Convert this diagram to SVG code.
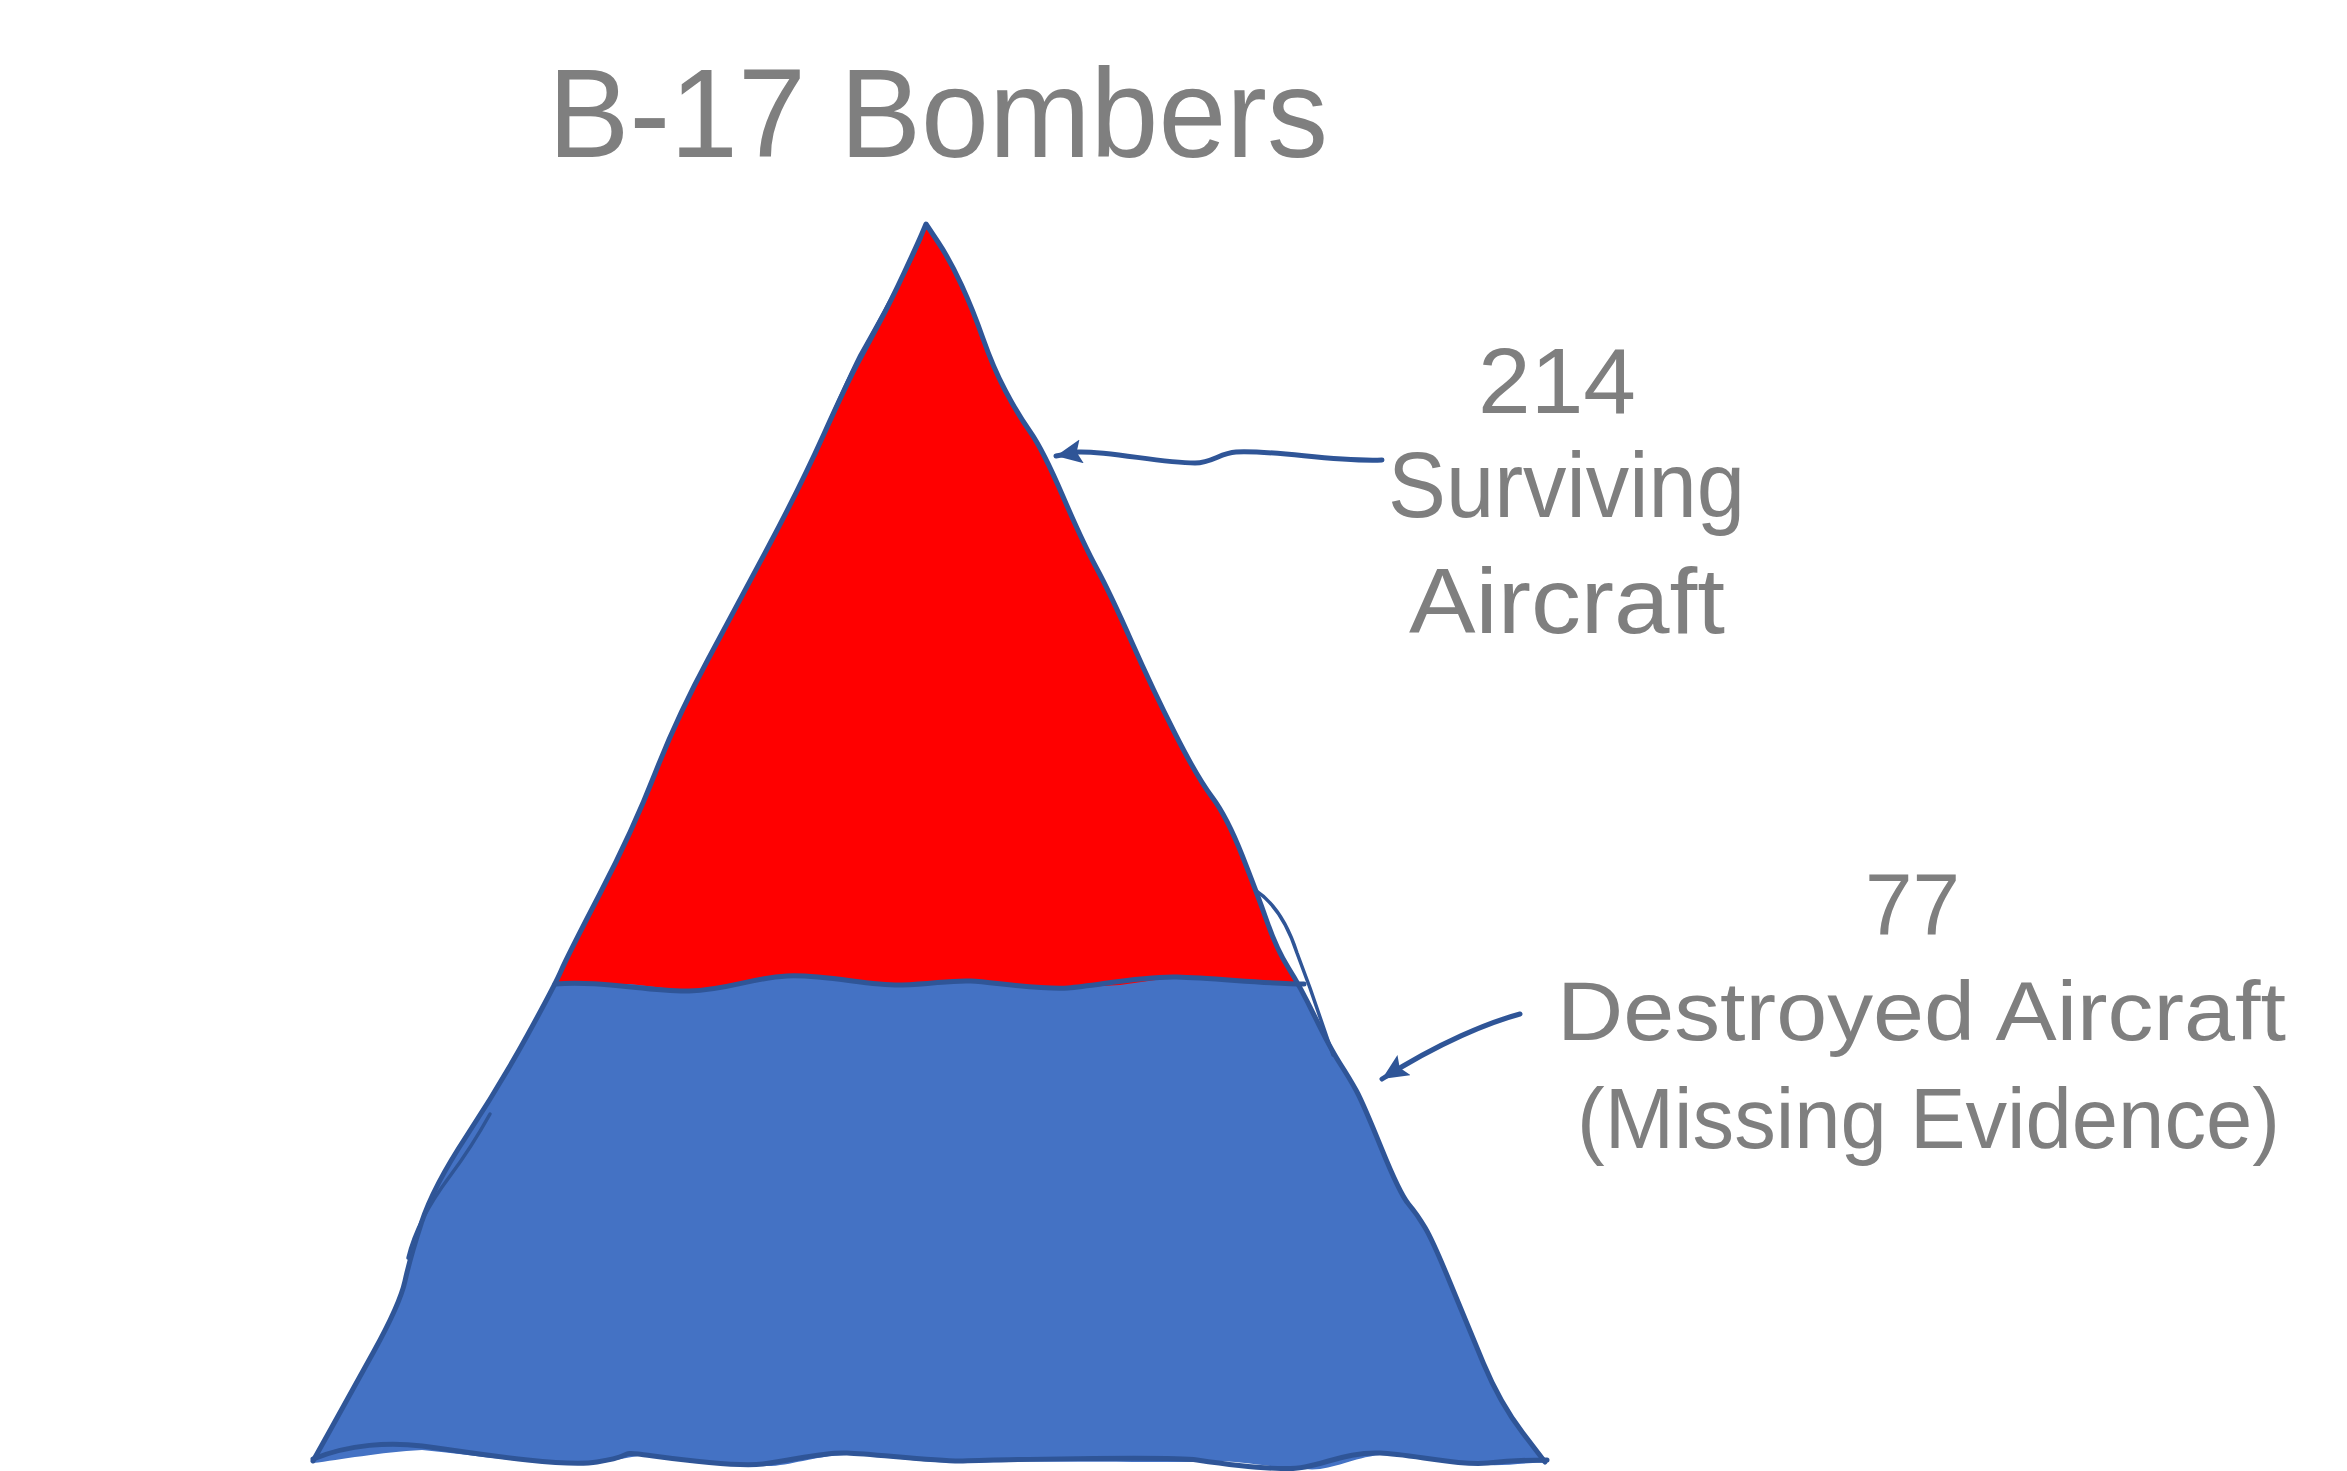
<svg xmlns="http://www.w3.org/2000/svg" width="2347" height="1471" viewBox="0 0 2347 1471">
  <style>
    .lbl { font-family: "Liberation Sans", "DejaVu Sans", sans-serif; fill: #7F7F7F; font-weight: 400; }
    .ttl { font-family: "Liberation Sans", "DejaVu Sans", sans-serif; fill: #7F7F7F; font-weight: 400; }
    .edge { fill: none; stroke: #2F5597; stroke-width: 5; stroke-linejoin: round; stroke-linecap: round; }
    .sketch { fill: none; stroke: #2F5597; stroke-width: 3.5; stroke-linejoin: round; stroke-linecap: round; }
    .conn { fill: none; stroke: #2F5597; stroke-width: 5; stroke-linecap: round; }
  </style>
  <defs>
    <marker id="ah" markerUnits="userSpaceOnUse" markerWidth="28" markerHeight="26" refX="26" refY="12" orient="auto">
      <path d="M0,0 L26,12 L0,24 L5,12 z" fill="#2F5597"/>
    </marker>
  </defs>
  <rect width="2347" height="1471" fill="#FFFFFF"/>

  <g id="title">
    <text class="ttl" x="548" y="157" font-size="127" textLength="780" lengthAdjust="spacingAndGlyphs">B-17 Bombers</text>
  </g>

  <g id="pyramid">
    <g id="destroyed-section">
      <path fill="#4472C4" d="M1547,1463 C1530,1462 1505,1466 1488,1465 C1460,1466 1410,1450 1380,1455 C1350,1458 1330,1472 1305,1469 C1270,1468 1230,1458 1197,1462 C1120,1462 1000,1461 963,1463 C920,1463 870,1454 847,1455 C810,1456 790,1467 763,1466 C720,1467 660,1452 638,1456 C610,1460 600,1466 570,1465 C520,1462 470,1455 422,1450 C380,1452 340,1460 313,1463 L330,1430.5 Q347,1400 373.5,1352 Q400,1304 405,1281 Q410,1258 421.5,1222.5 Q433,1187 466.5,1136 Q500,1085 527.5,1035 Q555,985 561,971 Q567,957 600,893.5 Q633,830 655,773.5 Q677,717 708.5,658.5 Q740,600 770,543.5 Q800,487 823.5,435 Q847,383 858.5,361.5 Q870,340 880,321.5 Q890,303 904,273 Q918,243 922,233.5 L926,224 L938,242 Q950,260 961.5,285 Q973,310 983,338.5 Q993,367 1005,390 Q1017,413 1030,431.5 Q1043,450 1063,496.5 Q1083,543 1096.5,568 Q1110,593 1131.5,641.5 Q1153,690 1175,733.5 Q1197,777 1212,797 Q1227,817 1242,855 Q1257,893 1267,921.5 Q1277,950 1288.5,968 Q1300,986 1315,1017 Q1330,1048 1340,1063.5 Q1350,1079 1356.5,1091 Q1363,1103 1381.5,1148.5 Q1400,1194 1408.5,1204 Q1417,1214 1425,1227.5 Q1433,1241 1450,1282.5 Q1467,1324 1483.5,1363.5 Q1500,1403 1522.5,1432.5 L1545,1462 Z"/>
    </g>
    <g id="surviving-section">
      <path fill="#FF0000" d="M926,224 L938,242 Q950,260 961.5,285 Q973,310 983,338.5 Q993,367 1005,390 Q1017,413 1030,431.5 Q1043,450 1063,496.5 Q1083,543 1096.5,568 Q1110,593 1131.5,641.5 Q1153,690 1175,733.5 Q1197,777 1212,797 Q1227,817 1242,855 Q1257,893 1267,921.5 Q1277,950 1288.5,968 L1301,985 L1240,981 L1177,977 L1120,985 L1068,988 L1020,985 L971,981 L902,985 L840,980 L787,976 L740,985 L689,991 L630,984 L555,984 L561,971 Q567,957 600,893.5 Q633,830 655,773.5 Q677,717 708.5,658.5 Q740,600 770,543.5 Q800,487 823.5,435 Q847,383 858.5,361.5 Q870,340 880,321.5 Q890,303 904,273 Q918,243 922,233.5 Z"/>
    </g>
    <g id="pyramid-outline">
      <path class="edge" d="M313,1461 L330,1430.5 Q347,1400 373.5,1352 Q400,1304 405,1281 Q410,1258 421.5,1222.5 Q433,1187 466.5,1136 Q500,1085 527.5,1035 Q555,985 561,971 Q567,957 600,893.5 Q633,830 655,773.5 Q677,717 708.5,658.5 Q740,600 770,543.5 Q800,487 823.5,435 Q847,383 858.5,361.5 Q870,340 880,321.5 Q890,303 904,273 Q918,243 922,233.5 L926,224 L938,242 Q950,260 961.5,285 Q973,310 983,338.5 Q993,367 1005,390 Q1017,413 1030,431.5 Q1043,450 1063,496.5 Q1083,543 1096.5,568 Q1110,593 1131.5,641.5 Q1153,690 1175,733.5 Q1197,777 1212,797 Q1227,817 1242,855 Q1257,893 1267,921.5 Q1277,950 1288.5,968 Q1300,986 1315,1017 Q1330,1048 1340,1063.5 Q1350,1079 1356.5,1091 Q1363,1103 1381.5,1148.5 Q1400,1194 1408.5,1204 Q1417,1214 1425,1227.5 Q1433,1241 1450,1282.5 Q1467,1324 1483.5,1363.5 Q1500,1403 1522.5,1432.5 L1545,1462"/>
      <path class="sketch" d="M1255,890 C1275,903 1288,925 1297,953 L1310,988 L1333,1055"/>
      <path class="sketch" d="M921,238 C905,275 880,320 860,355 C845,385 830,420 815,455"/>
      <path class="sketch" d="M408,1258 C415,1228 432,1200 450,1176 C468,1152 480,1132 490,1114"/>
      <path class="edge" d="M313,1459 C350,1444 390,1442 422,1446 S560,1468 597,1462 S620,1452 638,1454 S730,1468 763,1464 S820,1452 847,1453 S940,1462 963,1461 S1170,1456 1197,1460 S1280,1472 1305,1467 S1350,1452 1380,1453 S1460,1466 1488,1463 S1530,1460 1547,1460"/>
      <path class="edge" d="M555,984 C600,980 650,992 689,991 S750,978 787,976 S870,986 902,985 S950,980 971,981 S1040,990 1068,988 S1140,976 1177,977 S1270,984 1304,984"/>
    </g>
  </g>

  <g id="connectors">
    <path id="arrow-surviving" class="conn" marker-end="url(#ah)" d="M1382,460 C1330,462 1280,450 1236,452 C1220,453 1212,463 1195,463 C1160,463 1110,451 1078,452 L1056,456"/>
    <path id="arrow-destroyed" class="conn" marker-end="url(#ah)" d="M1520,1014 C1490,1022 1440,1042 1382,1079"/>
  </g>

  <g id="label-surviving">
    <text class="lbl" x="1478" y="413" font-size="92" textLength="158" lengthAdjust="spacingAndGlyphs">214</text>
    <text class="lbl" x="1388" y="517" font-size="92" textLength="357" lengthAdjust="spacingAndGlyphs">Surviving</text>
    <text class="lbl" x="1409" y="633" font-size="93" textLength="316" lengthAdjust="spacingAndGlyphs">Aircraft</text>
  </g>

  <g id="label-destroyed">
    <text class="lbl" x="1865" y="935" font-size="88" textLength="95" lengthAdjust="spacingAndGlyphs">77</text>
    <text class="lbl" x="1557" y="1040" font-size="84" textLength="729" lengthAdjust="spacingAndGlyphs">Destroyed Aircraft</text>
    <text class="lbl" x="1577" y="1148" font-size="86" textLength="703" lengthAdjust="spacingAndGlyphs">(Missing Evidence)</text>
  </g>
</svg>
